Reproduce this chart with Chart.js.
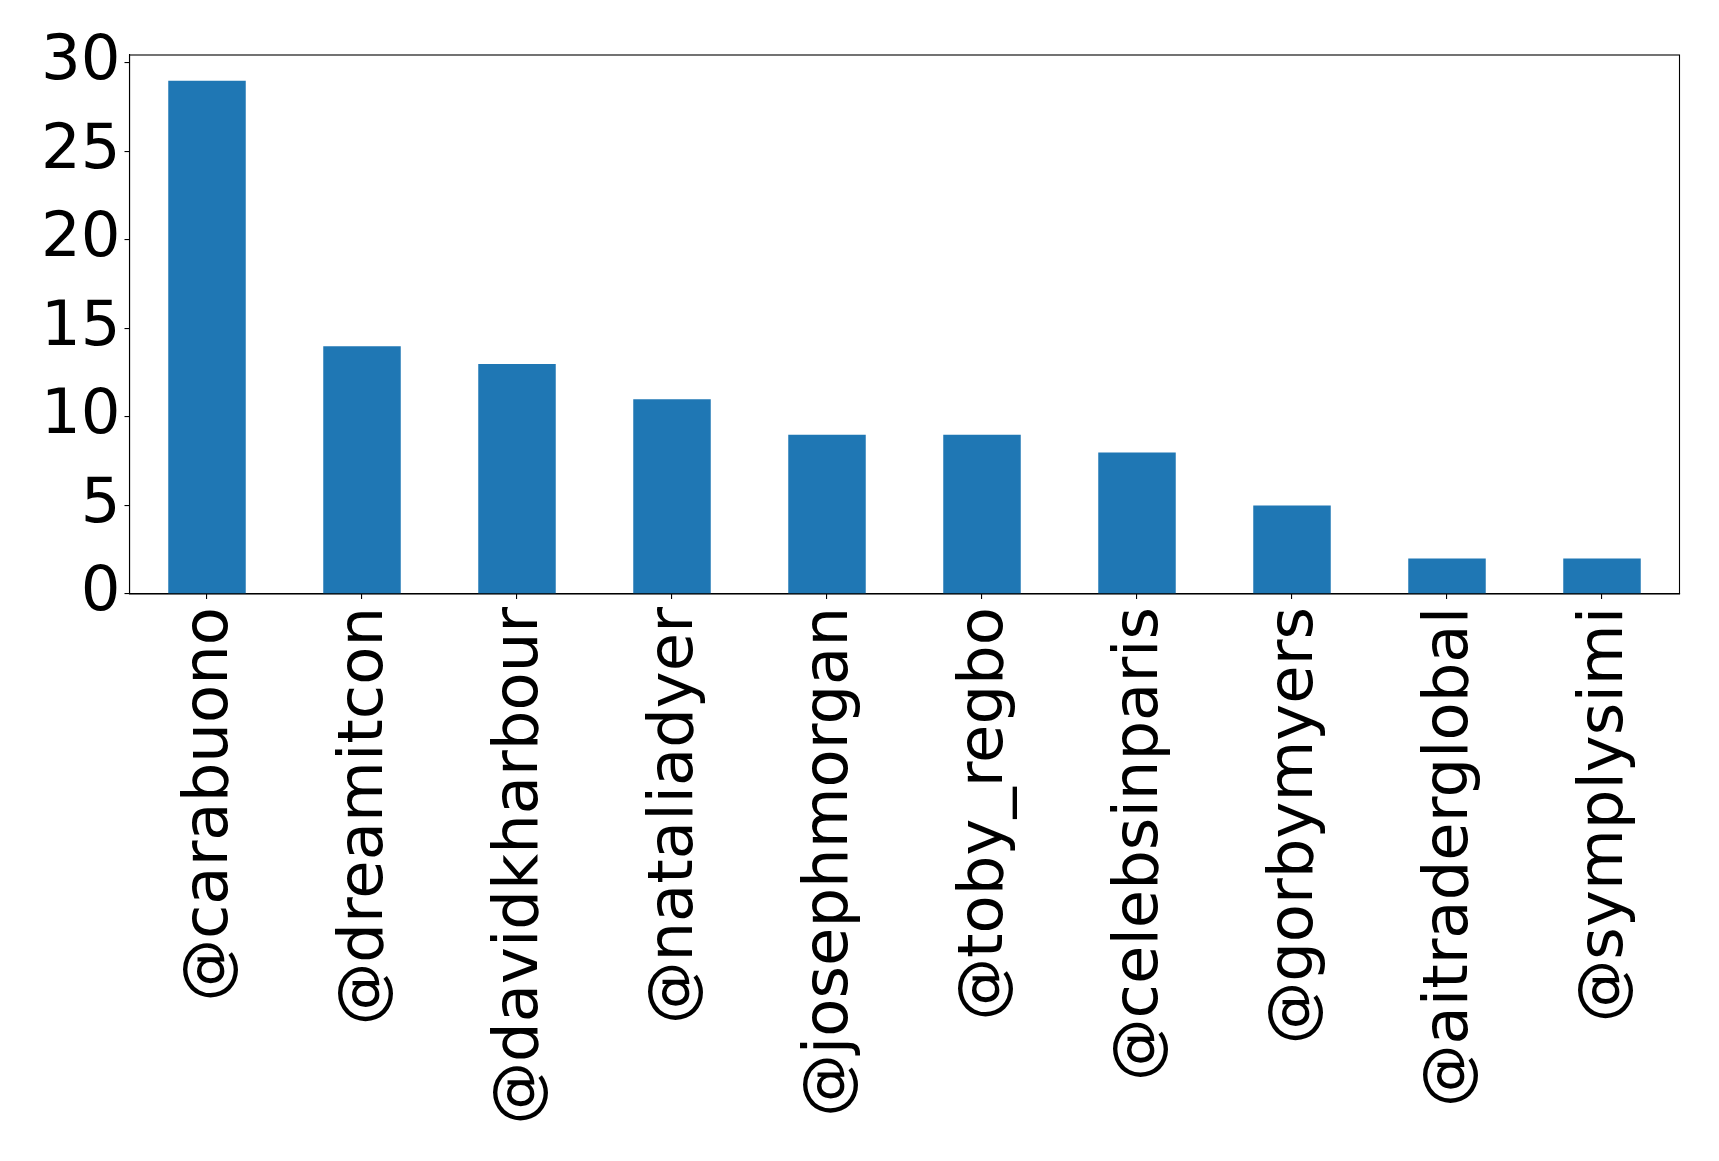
<!DOCTYPE html>
<html>
<head>
<meta charset="utf-8">
<script src="https://cdn.jsdelivr.net/npm/chart.js@4/dist/chart.umd.min.js"></script>
<style>
  html, body { margin: 0; padding: 0; background: #fff; }
  canvas { display: block; }
</style>
</head>
<body>
<canvas id="chart" width="1719" height="1161"></canvas>
<script>
// Mentions per account
const accounts = ['@carabuono', '@dreamitcon', '@davidkharbour', '@nataliadyer', '@josephmorgan',
                  '@toby_regbo', '@celebsinparis', '@gorbymyers', '@aitraderglobal', '@symplysimi'];
const counts = [29, 14, 13, 11, 9, 9, 8, 5, 2, 2];
const yTicks = [0, 5, 10, 15, 20, 25, 30];
const yMax = 30.45;

const FONT = "'DejaVu Sans', sans-serif";
const FONT_SIZE = 62.5;

// Outline the whole plot area (all four spines)
const frame = {
  id: 'frame',
  afterDraw(chart) {
    const { ctx, chartArea: a } = chart;
    ctx.save();
    ctx.strokeStyle = '#000';
    ctx.lineWidth = 1.1;
    ctx.strokeRect(a.left, a.top, a.right - a.left, a.bottom - a.top);
    ctx.restore();
  }
};

new Chart(document.getElementById('chart'), {
  type: 'bar',
  data: {
    labels: accounts,
    datasets: [{
      data: counts,
      backgroundColor: '#1f77b4',
      borderWidth: 0,
      barPercentage: 0.5,
      categoryPercentage: 1.0
    }]
  },
  options: {
    responsive: false,
    devicePixelRatio: 1,
    animation: false,
    layout: { padding: { top: 55, right: 39.5, left: 0, bottom: 0 } },
    plugins: { legend: { display: false }, tooltip: { enabled: false } },
    scales: {
      x: {
        grid: { display: true, offset: false, drawOnChartArea: false, drawTicks: true, tickLength: 5, color: '#000', lineWidth: 1.1 },
        border: { display: true, color: '#000', width: 1.1 },
        ticks: {
          autoSkip: false,
          minRotation: 90,
          maxRotation: 90,
          padding: 8,
          labelOffset: 4,
          color: '#000',
          font: { family: FONT, size: FONT_SIZE }
        },
        afterFit(scale) { scale.height = 1161 - 594; }
      },
      y: {
        min: 0,
        max: yMax,
        grid: { display: true, drawOnChartArea: false, drawTicks: true, tickLength: 5, color: '#000', lineWidth: 1.1 },
        border: { display: true, color: '#000', width: 1.1 },
        ticks: {
          padding: 4,
          color: '#000',
          font: { family: FONT, size: FONT_SIZE }
        },
        afterBuildTicks(scale) { scale.ticks = yTicks.map(v => ({ value: v })); },
        afterFit(scale) { scale.width = 129.5; }
      }
    }
  },
  plugins: [frame]
});
</script>
</body>
</html>
